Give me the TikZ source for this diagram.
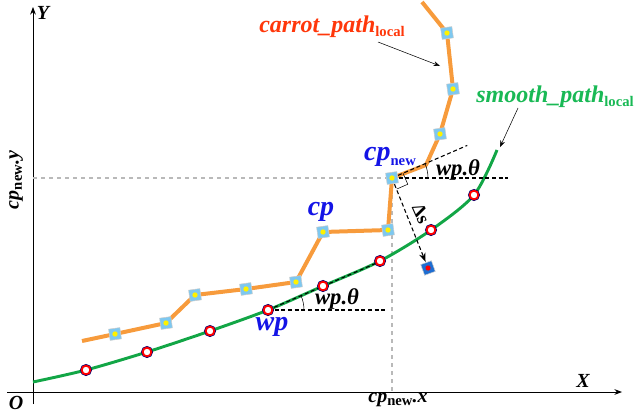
\documentclass[tikz,border=0pt]{standalone}
\usepackage{fontspec}
\setmainfont{Liberation Serif}
\usetikzlibrary{arrows.meta, calc}

\definecolor{carrotorange}{RGB}{247,155,60}
\definecolor{smoothgreen}{RGB}{18,166,70}
\definecolor{labelred}{RGB}{255,55,10}
\definecolor{labelblue}{RGB}{20,20,230}
\definecolor{labelgreen}{RGB}{25,185,85}
\definecolor{markblue}{RGB}{125,200,240}
\definecolor{projblue}{RGB}{30,110,210}

\newcommand{\lowsub}[1]{\raisebox{-0.35ex}{\upshape\fontsize{11}{13}\selectfont #1}}

\begin{document}
\begin{tikzpicture}[
    x=0.75pt, y=-0.75pt,
    >=Stealth,
    axis line/.style={semithick, black},
    guide line/.style={gray!55, dashed, thick},
    carrot line/.style={carrotorange, line width=3pt, line join=round},
    smooth line/.style={smoothgreen, line width=2.2pt},
    tangent line/.style={densely dashed, thick},
    carrot pt/.style={rectangle, fill=markblue, draw=gray!40, minimum size=8.5pt, inner sep=0pt, rotate=8,
        path picture={\fill[yellow] (path picture bounding box.center) circle (2pt);}},
    proj pt/.style={rectangle, fill=projblue, draw=gray!40, minimum size=8.5pt, inner sep=0pt, rotate=20,
        path picture={\fill[red] (path picture bounding box.center) circle (2pt);}},
    way pt/.style={circle, fill=white, draw=red, line width=1.4pt, minimum size=6.5pt, inner sep=0pt,
        preaction={draw=blue!45!black, line width=2.4pt}},
    name lbl/.style={font=\fontsize{18}{20}\selectfont\bfseries\itshape, inner sep=1pt},
    point lbl/.style={font=\fontsize{21}{23}\selectfont\bfseries\itshape, inner sep=1pt, text=labelblue},
    angle lbl/.style={font=\fontsize{17}{19}\selectfont\bfseries\itshape, inner sep=1pt},
    axis lbl/.style={font=\fontsize{15}{17}\selectfont\bfseries\itshape, inner sep=1pt}
]
    \useasboundingbox (0,0) rectangle (641,414);

    % Axes
    \coordinate (xstart) at (7,392);
    \coordinate (xtip) at (622,392);
    \coordinate (ystart) at (33,404);
    \coordinate (ytip) at (33,7);
    \draw[axis line, ->] (xstart) -- (xtip);
    \draw[axis line, ->] (ystart) -- (ytip);
    \node[axis lbl] (ylab) at (43,13) {Y};
    \node[axis lbl] (xlab) at (583,381) {X};
    \node[axis lbl] (olab) at (16,403) {O};

    % Smooth path way points
    \coordinate (w0) at (33,382);
    \coordinate (w1) at (86,370);
    \coordinate (w2) at (147,352);
    \coordinate (w3) at (210,331);
    \coordinate (w4) at (268,310);
    \coordinate (w5) at (323,286);
    \coordinate (w6) at (380,261);
    \coordinate (w7) at (431,230);
    \coordinate (w8) at (474,195);
    \coordinate (w9) at (497,150);

    % Carrot path points
    \coordinate (c0) at (82,341);
    \coordinate (c1) at (115,334);
    \coordinate (c2) at (166,323);
    \coordinate (c3) at (195,295);
    \coordinate (c4) at (246,289);
    \coordinate (c5) at (296,282);
    \coordinate (c6) at (323,232);
    \coordinate (c7) at (388,230);
    \coordinate (c8) at (392,178);
    \coordinate (c9) at (426,165);
    \coordinate (c10) at (440,134);
    \coordinate (c11) at (453,89);
    \coordinate (c12) at (447,33);
    \coordinate (c13) at (422,2);
    \coordinate (proj) at (428,268);

    % Guide lines to the axes
    \coordinate (cpy) at (33,178);
    \coordinate (cpx) at (392,392);
    \draw[guide line] (cpy) -- (c8) -- (cpx);

    % Paths
    \draw[smooth line] plot[smooth] coordinates {(w0) (w1) (w2) (w3) (w4) (w5) (w6) (w7) (w8) (w9)};
    \draw[carrot line] (c0) -- (c1) -- (c2) -- (c3) -- (c4) -- (c5) -- (c6) -- (c7) -- (c8) -- (c9) -- (c10) -- (c11) -- (c12) -- (c13);

    % Heading at wp
    \coordinate (wpt) at ($(w4)+(-23.4:122)$);
    \coordinate (wph) at (385,310);
    \draw[tangent line] (w4) -- (wpt);
    \draw[tangent line] (w4) -- (wph);
    \draw[thin] ($(w4)+(0:36)$) arc[start angle=0, end angle=-23.4, radius=36];
    \node[angle lbl] (wpang) at (337,299) {wp.θ};

    % Heading at cp_new
    \coordinate (cpt) at ($(c8)+(-23.4:82)$);
    \coordinate (cph) at (508,178);
    \draw[tangent line] (c8) -- (cpt);
    \draw[tangent line] (c8) -- (cph);
    \draw[thin] ($(c8)+(0:36)$) arc[start angle=0, end angle=-23.4, radius=36];
    \node[angle lbl] (cpang) at (458,170) {wp.θ};

    % Offset to the projected point
    \draw[thin] ($(c8)+(66.6:12)$) -- ($(c8)+(66.6:12)+(-23.4:12)$) -- ($(c8)+(-23.4:12)$);
    \draw[tangent line, ->, shorten >=5pt] (c8) -- (proj);
    \node[font=\fontsize{14}{16}\selectfont\bfseries, rotate=-66, inner sep=1pt] (ds) at (421,214) {Δs};

    % Markers
    \foreach \p in {w1,w2,w3,w4,w5,w6,w7,w8}
        \node[way pt] at (\p) {};
    \foreach \p in {c1,c2,c3,c4,c5,c6,c7,c8,c10,c11,c12}
        \node[carrot pt] at (\p) {};
    \node[proj pt] (projmark) at (proj) {};

    % Point labels
    \node[point lbl] (cpnew) at (390,157) {cp\lowsub{new}};
    \node[point lbl] (cp) at (321,212) {cp};
    \node[point lbl] (wp) at (272,327) {wp};
    \node[axis lbl] (cpxlab) at (398,400) {cp\lowsub{new}.x};
    \node[axis lbl, rotate=90] (cpylab) at (16,180) {cp\lowsub{new}.y};

    % Path names
    \node[name lbl, text=labelred] (carrotlab) at (332,27) {carrot\_path\lowsub{local}};
    \node[name lbl, text=labelgreen] (smoothlab) at (555,97) {smooth\_path\lowsub{local}};
    \coordinate (carrotend) at (440,66);
    \coordinate (smoothend) at (500,147);
    \draw[->, thin] (378,42) -- (carrotend);
    \draw[->, thin] (518,108) -- (smoothend);
\end{tikzpicture}
\end{document}
